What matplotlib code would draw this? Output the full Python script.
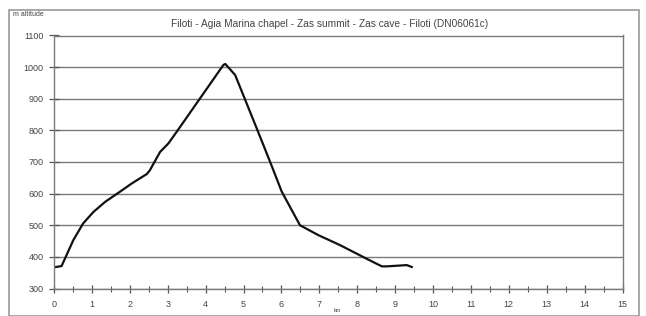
import matplotlib.pyplot as plt
from matplotlib.patches import Rectangle
from matplotlib.ticker import MultipleLocator

# distance (km) / altitude (m)
km = [0.0, 0.2, 0.51, 0.77, 1.04, 1.35, 1.74, 2.05, 2.45, 2.53, 2.80, 3.02,
      3.24, 4.47, 4.52, 4.78, 5.35, 5.70, 6.01, 6.49, 6.97, 7.55, 8.25,
      8.65, 8.78, 9.31, 9.44]
alt = [367, 371, 453, 506, 542, 574, 606, 632, 662, 674, 732, 759,
       796, 1007, 1010, 975, 806, 701, 606, 500, 469, 437, 394,
       370, 370, 374, 368]

title = "Filoti - Agia Marina chapel - Zas summit - Zas cave - Filoti (DN06061c)"

plt.rcParams['font.family'] = ['Liberation Sans', 'DejaVu Sans']

fig = plt.figure(figsize=(6.46, 3.16), dpi=100)
fig.patches.append(Rectangle((9/646, 0), 630/646, 306/316, transform=fig.transFigure,
                             fill=False, edgecolor='#9a9a9a', linewidth=1.2))
ax = fig.add_axes([54/646, 1 - 288.5/316, 568.5/646, 253/316])

ax.plot(km, alt, color='#111111', linewidth=1.6)

ax.set_xlim(0, 15)
ax.set_ylim(300, 1100)
ax.xaxis.set_major_locator(MultipleLocator(1))
ax.xaxis.set_minor_locator(MultipleLocator(0.5))
ax.yaxis.set_major_locator(MultipleLocator(100))
ax.grid(axis='y', color='#7a7a7a', linewidth=1.0)
ax.set_axisbelow(True)

for s in ['left', 'bottom', 'right', 'top']:
    ax.spines[s].set_color('#7a7a7a')
    ax.spines[s].set_linewidth(1.0)

ax.tick_params(axis='y', which='major', direction='inout', length=7, width=0.9,
               color='#555555', labelsize=6.5, labelcolor='#444444', pad=4)
ax.tick_params(axis='x', which='major', direction='inout', length=6, width=0.9,
               color='#555555', labelsize=6.5, labelcolor='#444444', pad=5)
ax.tick_params(axis='x', which='minor', direction='inout', length=5, width=0.8,
               color='#555555')

fig.text(330/646, 1 - 24/316, title, fontsize=7.3, color='#444444',
         ha='center', va='center')
fig.text(337/646, 1 - 311/316, "km", fontsize=4, color='#444444',
         ha='center', va='center')
fig.text(13/646, 1 - 15/316, "m altitude", fontsize=5, color='#444444',
         ha='left', va='center')

fig.savefig("out.png", dpi=100)
